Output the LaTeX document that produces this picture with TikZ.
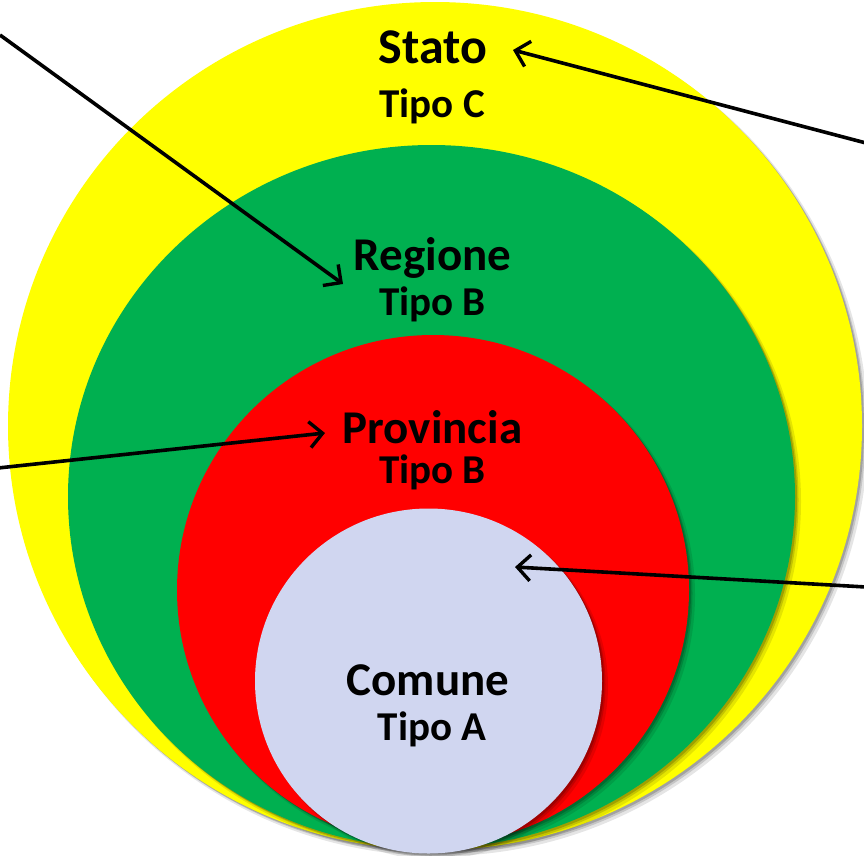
\documentclass[tikz,border=0pt]{standalone}
\usepackage{fontspec}
\setmainfont{Carlito}
\usetikzlibrary{arrows.meta}
\definecolor{cyel}{RGB}{255,255,0}
\definecolor{cgrn}{RGB}{0,176,80}
\definecolor{cred}{RGB}{255,0,0}
\definecolor{ccom}{RGB}{208,214,240}
\tikzset{
  lbig/.style={anchor=base, font=\bfseries\fontsize{47}{50}\selectfont, inner sep=0pt},
  lsmall/.style={anchor=base, font=\bfseries\fontsize{41}{44}\selectfont, inner sep=0pt},
  arr/.style={line width=3.6pt, -{Straight Barb[length=13pt,width=26pt,line width=3.4pt]}},
}
\newcommand{\shadowell}[4]{%
  \fill[black, opacity=0.10] (#1+5,#2+5) ellipse [x radius=#3pt+1pt, y radius=#4pt+1pt];
  \fill[black, opacity=0.14] (#1+3.5,#2+3.5) ellipse [x radius=#3pt, y radius=#4pt];
  \fill[black, opacity=0.18] (#1+2,#2+2) ellipse [x radius=#3pt, y radius=#4pt];
}
\begin{document}
\begin{tikzpicture}[x=1pt,y=-1pt]
\useasboundingbox (0,0) rectangle (864,855);
% circles
\shadowell{435}{426}{427}{424}
\fill[cyel] (435,426) ellipse [x radius=427pt, y radius=424pt];
\shadowell{431.5}{496.5}{363.5}{351.5}
\fill[cgrn] (431.5,496.5) ellipse [x radius=363.5pt, y radius=351.5pt];
\shadowell{433}{590}{256}{255}
\fill[cred] (433,590) ellipse [x radius=256pt, y radius=255pt];
\shadowell{428.5}{681}{173.5}{172.5}
\fill[ccom] (428.5,681) ellipse [x radius=173.5pt, y radius=172.5pt];
% labels
\node[lbig, font=\bfseries\fontsize{50}{52}\selectfont] (stato) at (433,63) {Stato};
\node[lsmall] (tipoc) at (432,117) {Tipo C};
\node[lbig] (regione) at (432.5,270) {Regione};
\node[lsmall] (tipob1) at (432.5,315) {Tipo B};
\node[lbig] (provincia) at (432.5,443) {Provincia};
\node[lsmall] (tipob2) at (432.5,483) {Tipo B};
\node[lbig] (comune) at (428,695) {Comune};
\node[lsmall] (tipoa) at (432,740) {Tipo A};
% arrow ends
\coordinate (s1) at (0,35);
\coordinate (t1) at (343,284);
\coordinate (s2) at (866,143);
\coordinate (t2) at (513,50);
\coordinate (s3) at (-2,468);
\coordinate (t3) at (325,433);
\coordinate (s4) at (866,587);
\coordinate (t4) at (515,567);
\draw[arr] (s1) -- (t1);
\draw[arr] (s2) -- (t2);
\draw[arr] (s3) -- (t3);
\draw[arr] (s4) -- (t4);
\end{tikzpicture}
\end{document}
